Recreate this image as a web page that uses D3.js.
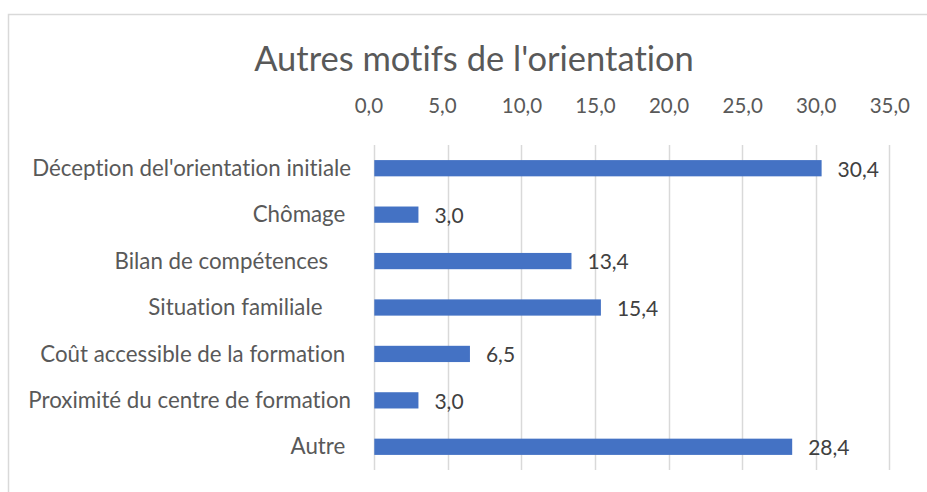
<html>
<head><meta charset="utf-8"></head>
<script src='https://cdnjs.cloudflare.com/ajax/libs/d3/7.8.5/d3.min.js'></script>
<style>
body {margin:0; background:white;}
text {font-family: Lato, sans-serif; white-space: pre; font-variant-ligatures: none;}
</style>
<body onload='init()'>
<svg width=927 height=492></svg>
<script>

// categories (trailing spaces are in the source labels)
var categories = ["Déception del'orientation initiale", "Chômage ", "Bilan de compétences    ",
  "Situation familiale     ", "Coût accessible de la formation ", "Proximité du centre de formation", "Autre "];
var values = [30.4, 3.0, 13.4, 15.4, 6.5, 3.0, 28.4];
var ticks = [0, 5, 10, 15, 20, 25, 30, 35];
var title = "Autres motifs de l'orientation";

function init(){
var svg = d3.select("svg");

// chart frame
svg.append("rect").attr("x",8.5).attr("y",14.5).attr("width",930).attr("height",500)
  .attr("fill","white").attr("stroke","#d9d9d9").attr("stroke-width",1.5);

svg.append("text").attr("x",474).attr("y",71).attr("text-anchor","middle")
  .attr("font-size",34.5).attr("fill","#595959").text(title);

var x = d3.scaleLinear().domain([0,35]).range([374.3,889.3]);
var y = d3.scaleBand().domain(categories).range([145,470]).paddingInner(0.65).paddingOuter(0.325);

var fmt = function(v){ return d3.format(".1f")(v).replace(".", ","); };

// gridlines
svg.append("g").selectAll("line").data(ticks).enter().append("line")
  .attr("x1",d => Math.round(x(d))+0.5).attr("x2",d => Math.round(x(d))+0.5)
  .attr("y1",145).attr("y2",470).attr("stroke","#d9d9d9").attr("stroke-width",1.5);

// top axis labels
var xAxis = d3.axisTop(x).tickValues(ticks).tickSize(0).tickPadding(0)
  .tickFormat(d => d < 10 ? fmt(d) + "\u2007" : fmt(d));
var gx = svg.append("g").attr("transform","translate(0,113)").call(xAxis);
gx.select(".domain").remove();
gx.selectAll("text").attr("font-family","Lato, sans-serif").attr("font-size",20.5)
  .attr("fill","#595959").attr("dy",0);

// category labels
var yAxis = d3.axisLeft(y).tickSize(0).tickPadding(0);
var gy = svg.append("g").attr("transform","translate(351,0)").call(yAxis);
gy.select(".domain").remove();
gy.selectAll("text").attr("font-family","Lato, sans-serif").attr("font-size",22.3)
  .attr("fill","#595959").attr("dy","0.34em");

// bars
svg.append("g").selectAll("rect").data(values).enter().append("rect")
  .attr("x",x(0)).attr("y",(d,i) => y(categories[i]))
  .attr("width",d => x(d)-x(0)).attr("height",y.bandwidth())
  .attr("fill","#4472c4");

// value labels
svg.append("g").selectAll("text").data(values).enter().append("text")
  .attr("x",d => x(d)+16).attr("y",(d,i) => y(categories[i])+y.bandwidth()/2)
  .attr("dy","0.4em").attr("font-size",21).attr("fill","#404040")
  .text(d => fmt(d));
}
</script>
</body>
</html>
